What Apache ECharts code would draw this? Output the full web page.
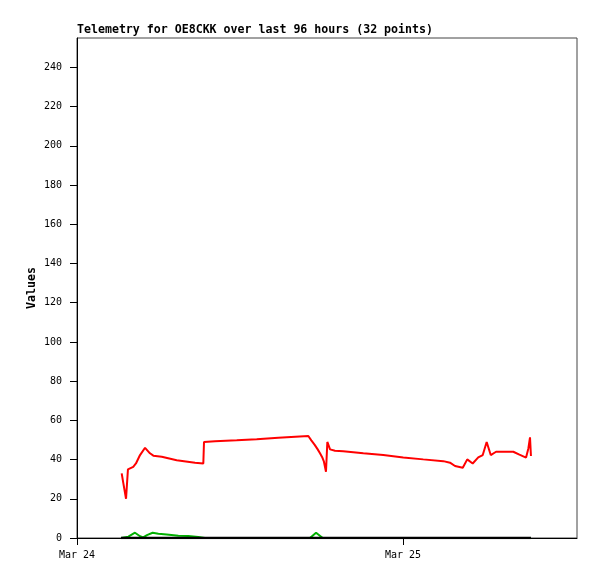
<!DOCTYPE html>
<html><head><meta charset="utf-8">
<script src="https://cdn.jsdelivr.net/npm/echarts@6/dist/echarts.min.js"></script>
<style>html,body{margin:0;padding:0;background:#fff}#c{width:597px;height:579px}</style>
</head><body><div id="c"></div>
<script>
// hours since Mar 24 00:00
const redHours = [3.29,3.41,3.61,3.75,4.14,4.34,4.64,5.01,5.37,5.62,6.24,7.34,8.69,9.30,9.35,10.16,11.76,13.23,14.82,17.03,17.25,17.50,17.72,17.89,18.05,18.18,18.33,18.43,18.63,18.99,19.60,21.08,22.55,24.02,25.49,26.97,27.46,27.83,28.40,28.73,29.13,29.54,29.87,30.16,30.46,30.85,32.12,32.57,33.06,33.23,33.35,33.42];
const redValues = [33,28,20,35,36.3,38,42.3,46,43.2,42,41.4,39.7,38.4,38,49,49.4,49.9,50.4,51.1,52,49.8,47.5,45.2,43.2,41.2,38.9,33.8,49,45.2,44.5,44.3,43.2,42.3,41.1,40.1,39.2,38.4,36.7,35.8,40.1,38,41.1,42.3,49,42.3,44,44,42.5,41,45.7,51.3,41.8];
const greenHours = [3.24,3.78,4.27,4.64,4.88,5.15,5.57,5.99,6.60,7.46,8.19,8.93,9.42,17.15,17.60,18.09,33.42];
const greenValues = [0,0.7,2.7,0.9,0.3,1.5,2.7,2.2,1.8,1.2,1.0,0.5,0,0,2.7,0,0];
const blackHours = [3.24,33.42];
const blackValues = [0,0];
const yTicks = [0,20,40,60,80,100,120,140,160,180,200,220,240];
const xTickHours = [0,24];
const xTickLabels = ['Mar 24','Mar 25'];
const title = 'Telemetry for OE8CKK over last 96 hours (32 points)';

const zip = (h,v) => h.map((x,i)=>[x,v[i]]);
const chart = echarts.init(document.getElementById('c'));
const mono = 'DejaVu Sans Mono';
chart.setOption({
  animation:false,
  backgroundColor:'#fff',
  title:{text:title,left:77,top:24,padding:0,textStyle:{fontFamily:mono,fontSize:11.6,fontWeight:'bold',color:'#000'}},
  grid:{left:77,top:38,width:500,height:500,show:true,borderColor:'#444',borderWidth:1,backgroundColor:'#fff'},
  xAxis:{type:'value',min:0,max:36.81,
    axisLine:{onZero:false,lineStyle:{color:'#000',width:1}},
    axisTick:{length:7,lineStyle:{color:'#000'},customValues:xTickHours},
    axisLabel:{customValues:xTickHours,formatter:v=>xTickLabels[xTickHours.indexOf(v)]||'',fontFamily:mono,fontSize:10,color:'#000',margin:12},
    splitLine:{show:false}},
  yAxis:{type:'value',min:0,max:255,name:'Values',nameLocation:'middle',nameGap:39,nameMoveOverlap:false,
    nameTextStyle:{fontFamily:mono,fontSize:11.6,fontWeight:'bold',color:'#000'},
    axisLine:{show:true,lineStyle:{color:'#000',width:1}},
    axisTick:{show:true,length:7,lineStyle:{color:'#000'},customValues:yTicks},
    axisLabel:{customValues:yTicks,fontFamily:mono,fontSize:10,color:'#000',margin:15},
    splitLine:{show:false}},
  series:[
    {type:'line',data:zip(greenHours,greenValues),showSymbol:false,lineStyle:{color:'#00b000',width:2},itemStyle:{color:'#00b000'}},
    {type:'line',data:zip(blackHours,blackValues),showSymbol:false,lineStyle:{color:'#000',width:2.5},itemStyle:{color:'#000'}},
    {type:'line',data:zip(redHours,redValues),showSymbol:false,lineStyle:{color:'#ff0000',width:2},itemStyle:{color:'#ff0000'}}
  ]
});
</script></body></html>
